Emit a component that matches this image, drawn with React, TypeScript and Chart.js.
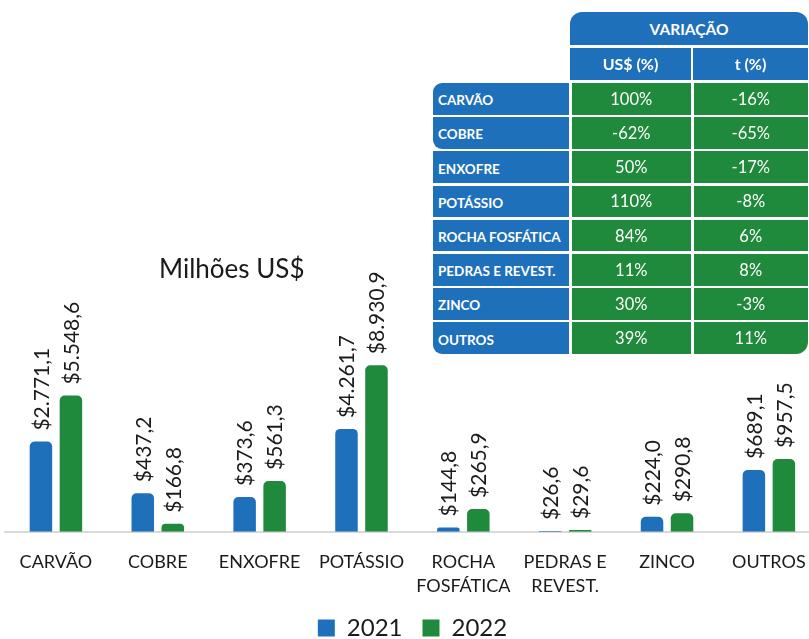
import React, { useEffect, useRef } from "react";
import { Chart, registerables } from "chart.js";

Chart.register(...registerables);

// ---- data ----
const categories: string[][] = [
  ["CARVÃO"], ["COBRE"], ["ENXOFRE"], ["POTÁSSIO"],
  ["ROCHA", "FOSFÁTICA"], ["PEDRAS E", "REVEST."], ["ZINCO"], ["OUTROS"],
];
const seriesNames = ["2021", "2022"];
// value labels printed on the bars (Milhões US$)
const labels2021 = ["$2.771,1", "$437,2", "$373,6", "$4.261,7", "$144,8", "$26,6", "$224,0", "$689,1"];
const labels2022 = ["$5.548,6", "$166,8", "$561,3", "$8.930,9", "$265,9", "$29,6", "$290,8", "$957,5"];
// bar lengths as drawn in the source picture (same units as the tallest bar, $8.930,9)
const bars2021 = [4833, 2067, 1863, 5515, 231, 38, 806, 3313];
const bars2022 = [7303, 430, 2723, 8931, 1219, 91, 988, 3904];
const yMax = 12000;

// table
const tableRows = ["CARVÃO", "COBRE", "ENXOFRE", "POTÁSSIO", "ROCHA FOSFÁTICA", "PEDRAS E REVEST.", "ZINCO", "OUTROS"];
const varUsd = ["100%", "-62%", "50%", "110%", "84%", "11%", "30%", "39%"];
const varT = ["-16%", "-65%", "-17%", "-8%", "6%", "8%", "-3%", "11%"];

const BLUE = "#1F70BA";
const GREEN = "#1F8A3B";
const FONT = "Lato, 'Open Sans', sans-serif";

const valueLabelPlugin = {
  id: "valueLabels",
  afterDatasetsDraw(chart: any) {
    const ctx = chart.ctx;
    const sets = [labels2021, labels2022];
    chart.data.datasets.forEach((_: any, di: number) => {
      const meta = chart.getDatasetMeta(di);
      meta.data.forEach((el: any, i: number) => {
        ctx.save();
        ctx.translate(el.x, el.y - 11);
        ctx.rotate(-Math.PI / 2);
        ctx.font = `21px ${FONT}`;
        ctx.fillStyle = "#1a1a1a";
        ctx.textAlign = "left";
        ctx.textBaseline = "middle";
        ctx.fillText(sets[di][i], 0, 1);
        ctx.restore();
      });
    });
  },
};

export default function App() {
  const ref = useRef<HTMLCanvasElement | null>(null);
  useEffect(() => {
    if (!ref.current) return;
    const chart = new Chart(ref.current, {
      type: "bar",
      data: {
        labels: categories,
        datasets: [
          { label: seriesNames[0], data: bars2021, backgroundColor: BLUE, borderWidth: 0, borderRadius: 5, categoryPercentage: 0.589, barPercentage: 0.75 },
          { label: seriesNames[1], data: bars2022, backgroundColor: GREEN, borderWidth: 0, borderRadius: 5, categoryPercentage: 0.589, barPercentage: 0.75 },
        ],
      },
      options: {
        responsive: false,
        animation: false,
        devicePixelRatio: 1,
        layout: { padding: { left: 5, right: 5, top: 308, bottom: -11 } },
        scales: {
          x: {
            grid: { display: false, drawTicks: false },
            border: { display: true, color: "#d9d9d9", width: 2 },
            ticks: { color: "#1a1a1a", font: { family: FONT, size: 18, lineHeight: 1.33 }, padding: 19, maxRotation: 0, autoSkip: false },
            afterFit: (scale: any) => { scale.height = 64.3; },
          },
          y: { display: false, min: 0, max: yMax },
        },
        plugins: {
          legend: {
            position: "bottom",
            labels: { boxWidth: 17, boxHeight: 17, padding: 20, color: "#1a1a1a", font: { family: FONT, size: 24 } },
          },
          tooltip: { enabled: false },
          title: { display: false },
        },
      },
      plugins: [valueLabelPlugin],
    });
    return () => chart.destroy();
  }, []);

  const rowTop = (i: number) => 83 + i * 34.2;
  const cellBase: React.CSSProperties = {
    position: "absolute", color: "#fff", display: "flex", alignItems: "center", boxSizing: "border-box",
  };

  return (
    <div style={{ position: "absolute", left: 0, top: 0, width: 809, height: 639, overflow: "hidden", background: "#fff", fontFamily: FONT }}>
      <canvas ref={ref} width={825} height={639} style={{ position: "absolute", left: 0, top: 0, width: 825, height: 639 }} />
      <div style={{ position: "absolute", left: 159, top: 252, fontSize: 26, color: "#1a1a1a", fontFamily: FONT, whiteSpace: "nowrap" }}>Milhões US$</div>
      {/* table */}
      <div style={{ ...cellBase, left: 570, top: 12, width: 238, height: 33, background: BLUE, justifyContent: "center", fontWeight: 700, fontSize: 15.5, borderRadius: "12px 12px 0 0" }}>VARIAÇÃO</div>
      <div style={{ ...cellBase, left: 570, top: 47.5, width: 121, height: 32.5, background: BLUE, justifyContent: "center", fontWeight: 700, fontSize: 16 }}>US$ (%)</div>
      <div style={{ ...cellBase, left: 693, top: 47.5, width: 115, height: 32.5, background: BLUE, justifyContent: "center", fontWeight: 700, fontSize: 16 }}>t (%)</div>
      {tableRows.map((r, i) => {
        const last = i === tableRows.length - 1;
        const lblRadius = i === 0 ? "9px 0 0 0" : i === 1 || last ? "0 0 0 9px" : "0";
        return (
          <React.Fragment key={r}>
            <div style={{ ...cellBase, left: 433, top: rowTop(i), width: 136, height: 31.5, background: BLUE, paddingLeft: 5, paddingTop: 3, fontWeight: 700, fontSize: 13.5, whiteSpace: "nowrap", borderRadius: lblRadius }}>{r}</div>
            <div style={{ ...cellBase, left: 571.5, top: rowTop(i), width: 119.5, height: 31.5, background: GREEN, justifyContent: "center", fontSize: 16.5 }}>{varUsd[i]}</div>
            <div style={{ ...cellBase, left: 693.5, top: rowTop(i), width: 114.5, height: 31.5, background: GREEN, justifyContent: "center", fontSize: 16.5, borderRadius: last ? "0 0 12px 0" : "0" }}>{varT[i]}</div>
          </React.Fragment>
        );
      })}
    </div>
  );
}
